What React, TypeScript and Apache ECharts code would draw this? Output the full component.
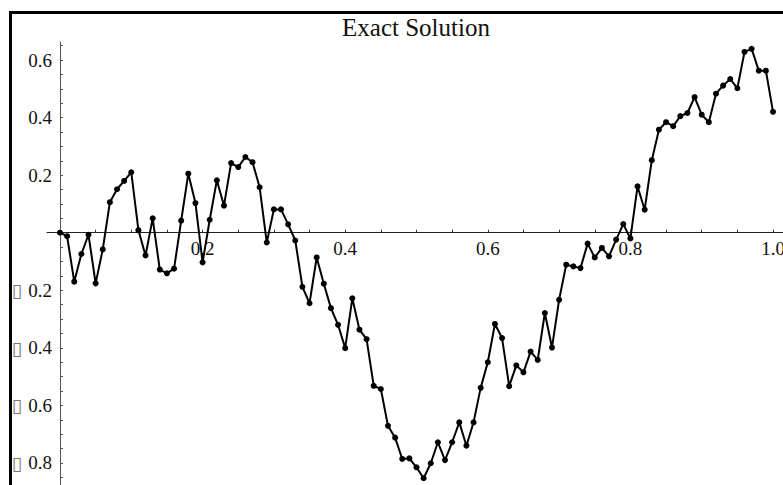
import React, { useEffect, useRef } from "react";
import * as echarts from "echarts";

const TITLE = "Exact Solution";

const xValues = [
  0, 0.01, 0.02, 0.03, 0.04, 0.05, 0.06, 0.07, 0.08, 0.09,
  0.1, 0.11, 0.12, 0.13, 0.14, 0.15, 0.16, 0.17, 0.18, 0.19,
  0.2, 0.21, 0.22, 0.23, 0.24, 0.25, 0.26, 0.27, 0.28, 0.29,
  0.3, 0.31, 0.32, 0.33, 0.34, 0.35, 0.36, 0.37, 0.38, 0.39,
  0.4, 0.41, 0.42, 0.43, 0.44, 0.45, 0.46, 0.47, 0.48, 0.49,
  0.5, 0.51, 0.52, 0.53, 0.54, 0.55, 0.56, 0.57, 0.58, 0.59,
  0.6, 0.61, 0.62, 0.63, 0.64, 0.65, 0.66, 0.67, 0.68, 0.69,
  0.7, 0.71, 0.72, 0.73, 0.74, 0.75, 0.76, 0.77, 0.78, 0.79,
  0.8, 0.81, 0.82, 0.83, 0.84, 0.85, 0.86, 0.87, 0.88, 0.89,
  0.9, 0.91, 0.92, 0.93, 0.94, 0.95, 0.96, 0.97, 0.98, 0.99,
  1.0,
];

const yValues = [
  0, -0.012, -0.17, -0.074, -0.007, -0.176, -0.058, 0.106, 0.151, 0.18,
  0.21, 0.009, -0.079, 0.05, -0.128, -0.141, -0.125, 0.042, 0.205, 0.103,
  -0.103, 0.045, 0.182, 0.094, 0.242, 0.228, 0.263, 0.245, 0.158, -0.034,
  0.081, 0.081, 0.029, -0.027, -0.188, -0.245, -0.086, -0.177, -0.262, -0.32,
  -0.401, -0.228, -0.337, -0.37, -0.532, -0.543, -0.671, -0.712, -0.786, -0.784,
  -0.815, -0.853, -0.801, -0.728, -0.79, -0.728, -0.659, -0.74, -0.659, -0.539,
  -0.45, -0.317, -0.366, -0.533, -0.461, -0.485, -0.413, -0.442, -0.279, -0.399,
  -0.233, -0.111, -0.117, -0.123, -0.038, -0.086, -0.053, -0.082, -0.024, 0.03,
  -0.02, 0.161, 0.08, 0.252, 0.358, 0.384, 0.37, 0.405, 0.416, 0.471,
  0.41, 0.384, 0.483, 0.511, 0.534, 0.502, 0.628, 0.639, 0.563, 0.563,
  0.42,
];

const xTickLabels = [0.2, 0.4, 0.6, 0.8, 1.0];
const xTicks = [
  0.05, 0.1, 0.15, 0.2, 0.25, 0.3, 0.35, 0.4, 0.45, 0.5,
  0.55, 0.6, 0.65, 0.7, 0.75, 0.8, 0.85, 0.9, 0.95, 1.0,
];
const yTickLabels = [-0.8, -0.6, -0.4, -0.2, 0.2, 0.4, 0.6];
const yTicks = [
  -0.85, -0.8, -0.75, -0.7, -0.65, -0.6, -0.55, -0.5, -0.45, -0.4,
  -0.35, -0.3, -0.25, -0.2, -0.15, -0.1, -0.05, 0.05, 0.1, 0.15,
  0.2, 0.25, 0.3, 0.35, 0.4, 0.45, 0.5, 0.55, 0.6, 0.65,
];

const X_MIN = -0.0182;
const X_MAX = 1.014;
const Y_MIN = -0.8765;
const Y_MAX = 0.6626;

const SERIF = "'Liberation Serif', 'DejaVu Serif', serif";

export default function App() {
  const ref = useRef<HTMLDivElement>(null);

  useEffect(() => {
    if (!ref.current) return;
    const chart = echarts.init(ref.current, null, { renderer: "svg" });
    const data = xValues.map((x, i) => [x, yValues[i]]);

    const labelFont = { color: "#111", fontFamily: SERIF, fontSize: 19 };

    chart.setOption({
      animation: false,
      backgroundColor: "#ffffff",
      grid: [
        // main plotting grid
        { left: 47, right: 0, top: 42, bottom: 0, containLabel: false, outerBoundsMode: "none" },
        // grid whose bottom edge sits on y = 0, carries the x labels
        { left: 47, right: 0, top: 42, bottom: 252, containLabel: false, outerBoundsMode: "none" },
        // grid whose left edge sits on x = 0, carries the y labels
        { left: 60, right: 0, top: 42, bottom: 0, containLabel: false, outerBoundsMode: "none" },
      ],
      xAxis: [
        {
          gridIndex: 0,
          type: "value",
          min: X_MIN,
          max: X_MAX,
          axisLine: { show: true, onZero: true, lineStyle: { color: "#222", width: 1 } },
          axisTick: {
            show: true,
            inside: true,
            length: 3,
            customValues: xTicks,
            lineStyle: { color: "#333", width: 1 },
          },
          axisLabel: { show: false },
          splitLine: { show: false },
        },
        {
          gridIndex: 1,
          type: "value",
          position: "bottom",
          min: X_MIN,
          max: X_MAX,
          axisLine: { show: false, onZero: false },
          axisTick: { show: false },
          axisLabel: {
            show: true,
            customValues: xTickLabels,
            margin: 6,
            ...labelFont,
            formatter: (v: number) => v.toFixed(1),
          },
          splitLine: { show: false },
        },
        {
          gridIndex: 2,
          type: "value",
          show: false,
          min: 0,
          max: 1,
        },
      ],
      yAxis: [
        {
          gridIndex: 0,
          type: "value",
          min: Y_MIN,
          max: Y_MAX,
          axisLine: { show: true, onZero: true, lineStyle: { color: "#555", width: 1 } },
          axisTick: {
            show: true,
            inside: true,
            length: 3,
            customValues: yTicks,
            lineStyle: { color: "#555", width: 1 },
          },
          axisLabel: { show: false },
          splitLine: { show: false },
        },
        {
          gridIndex: 1,
          type: "value",
          show: false,
          min: 0,
          max: 1,
        },
        {
          gridIndex: 2,
          type: "value",
          position: "left",
          min: Y_MIN,
          max: Y_MAX,
          axisLine: { show: false, onZero: false },
          axisTick: { show: false },
          axisLabel: {
            show: true,
            customValues: yTickLabels,
            margin: 8,
            ...labelFont,
            formatter: (v: number) =>
              v < 0 ? `{box|\u25AF}{num|${Math.abs(v).toFixed(1)}}` : `{num|${v.toFixed(1)}}`,
            rich: {
              box: {
                fontFamily: "'DejaVu Sans', sans-serif",
                fontSize: 19,
                color: "#777",
                verticalAlign: "middle",
                padding: [0, 6, 0, 0],
              },
              num: {
                ...labelFont,
                verticalAlign: "middle",
              },
            },
          },
          splitLine: { show: false },
        },
      ],
      graphic: [
        {
          type: "rect",
          shape: { x: 10.5, y: 12.5, width: 800, height: 500 },
          style: { fill: "none", stroke: "#000", lineWidth: 3 },
          silent: true,
          z: 100,
        },
        {
          type: "text",
          x: 416,
          y: 27,
          style: {
            text: TITLE,
            fontFamily: SERIF,
            fontSize: 25,
            fill: "#111",
            align: "center",
            verticalAlign: "middle",
          },
        },
      ],
      series: [
        {
          type: "line",
          xAxisIndex: 0,
          yAxisIndex: 0,
          data,
          symbol: "circle",
          symbolSize: 6,
          showSymbol: true,
          clip: false,
          lineStyle: { color: "#000", width: 2 },
          itemStyle: { color: "#000" },
        },
      ],
    });

    return () => chart.dispose();
  }, []);

  return (
    <div
      ref={ref}
      style={{ position: "fixed", left: 0, top: 0, width: 783, height: 485, background: "#fff" }}
    />
  );
}
